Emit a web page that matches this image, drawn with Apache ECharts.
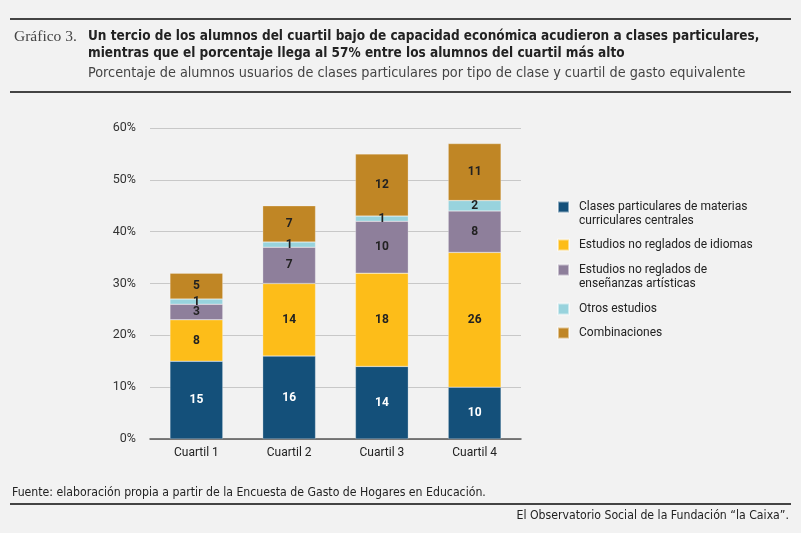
<!DOCTYPE html>
<html>
<head>
<meta charset="utf-8">
<script src="https://cdn.jsdelivr.net/npm/echarts@6/dist/echarts.min.js"></script>
<style>
  html, body { margin: 0; padding: 0; background: #f2f2f2; }
  #main { width: 801px; height: 533px; }
</style>
</head>
<body>
<div id="main"></div>
<script>
// datos (puntos porcentuales)
var categories = ['Cuartil 1', 'Cuartil 2', 'Cuartil 3', 'Cuartil 4'];
var clasesCentrales = [15, 16, 14, 10];
var idiomas = [8, 14, 18, 26];
var artisticas = [3, 7, 10, 8];
var otros = [1, 1, 1, 2];
var combinaciones = [5, 7, 12, 11];
var yTicks = [0, 10, 20, 30, 40, 50, 60];

var narrow = '"DejaVu Sans Condensed", "Roboto", sans-serif';
var sans = 'Roboto, "Noto Sans", sans-serif';

var seriesDefs = [
    {name: 'Clases particulares de materias\ncurriculares centrales', data: clasesCentrales, color: '#14507a', label: '#ffffff', two: true},
    {name: 'Estudios no reglados de idiomas', data: idiomas, color: '#fdbd19', label: '#222222'},
    {name: 'Estudios no reglados de\nenseñanzas artísticas', data: artisticas, color: '#8e7f9b', label: '#222222', two: true},
    {name: 'Otros estudios', data: otros, color: '#98d3dd', label: '#222222'},
    {name: 'Combinaciones', data: combinaciones, color: '#c08625', label: '#222222'}
];
// centro vertical del cuadrado de cada entrada de la leyenda
var legendCenters = [207, 245, 270, 309, 333];

var series = seriesDefs.map(function (s) {
    return {
        name: s.name,
        type: 'bar',
        stack: 'total',
        barWidth: '57%',
        data: s.data,
        itemStyle: {color: s.color, borderColor: 'rgba(255,255,255,0.5)', borderWidth: 0.5},
        label: {
            show: true,
            position: 'inside',
            color: s.label,
            fontFamily: sans,
            fontWeight: 'bold',
            fontSize: 12
        }
    };
});

// una leyenda por entrada; en las de dos líneas se antepone una línea vacía
// para que el cuadrado quede a la altura de la primera línea
var legends = seriesDefs.map(function (s, i) {
    return {
        orient: 'vertical',
        left: 557,
        top: s.two ? legendCenters[i] - 21 : legendCenters[i] - 7,
        padding: 0,
        itemWidth: 11,
        itemHeight: 11,
        icon: 'rect',
        selectedMode: false,
        data: [s.name],
        formatter: function (name) {
            return s.two ? '\n' + name : name;
        },
        textStyle: {
            fontFamily: sans, fontSize: 12, color: '#222', lineHeight: 14,
            padding: [0, 0, 0, 5]
        }
    };
});

var myChart = echarts.init(document.getElementById('main'));
var option = {
    backgroundColor: '#f2f2f2',
    animation: false,
    title: [
        {text: 'Gráfico 3.', left: 14, top: 29, padding: 0, textStyle: {fontFamily: '"Liberation Serif", "DejaVu Serif", serif', fontWeight: 'normal', fontSize: 15.5, color: '#444'}},
        {
            text: 'Un tercio de los alumnos del cuartil bajo de capacidad económica acudieron a clases particulares,\nmientras que el porcentaje llega al 57% entre los alumnos del cuartil más alto',
            left: 88, top: 28, padding: 0,
            textStyle: {fontFamily: narrow, fontWeight: 'bold', fontSize: 13.5, lineHeight: 17, color: '#222'}
        },
        {
            text: 'Porcentaje de alumnos usuarios de clases particulares por tipo de clase y cuartil de gasto equivalente',
            left: 88, top: 66, padding: 0,
            textStyle: {fontFamily: narrow, fontWeight: 'normal', fontSize: 14.3, color: '#444'}
        },
        {
            text: 'Fuente: elaboración propia a partir de la Encuesta de Gasto de Hogares en Educación.',
            left: 12, top: 487, padding: 0,
            textStyle: {fontFamily: narrow, fontWeight: 'normal', fontSize: 12.2, color: '#222'}
        },
        {
            text: 'El Observatorio Social de la Fundación “la Caixa”.',
            right: 12, top: 510, padding: 0,
            textStyle: {fontFamily: narrow, fontWeight: 'normal', fontSize: 12.2, color: '#222'}
        }
    ],
    graphic: [
        {type: 'line', shape: {x1: 10, y1: 19, x2: 791, y2: 19}, style: {stroke: '#444', lineWidth: 2}},
        {type: 'line', shape: {x1: 10, y1: 92, x2: 791, y2: 92}, style: {stroke: '#444', lineWidth: 2}},
        {type: 'line', shape: {x1: 10, y1: 504, x2: 791, y2: 504}, style: {stroke: '#444', lineWidth: 2}}
    ],
    legend: legends,
    grid: {left: 150, right: 280, top: 128, bottom: 94},
    xAxis: {
        type: 'category',
        data: categories,
        axisTick: {show: false},
        axisLine: {lineStyle: {color: '#555', width: 1.5}},
        axisLabel: {fontFamily: sans, fontSize: 12, color: '#222', margin: 8}
    },
    yAxis: {
        type: 'value',
        min: yTicks[0],
        max: yTicks[yTicks.length - 1],
        interval: 10,
        axisLine: {show: false},
        axisTick: {show: false},
        splitLine: {lineStyle: {color: '#c8c8c8', width: 1}},
        axisLabel: {formatter: '{value}%', fontFamily: sans, fontSize: 12.5, color: '#333', margin: 14}
    },
    series: series
};
myChart.setOption(option);
</script>
</body>
</html>
